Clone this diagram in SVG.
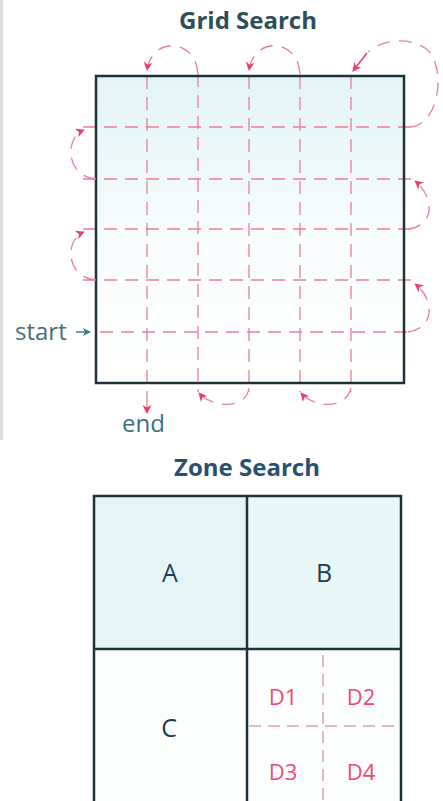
<svg xmlns="http://www.w3.org/2000/svg" width="443" height="801" viewBox="0 0 443 801">
<defs>
<linearGradient id="g1" x1="0" y1="0" x2="0" y2="1">
<stop offset="0" stop-color="#e2f4f6"/>
<stop offset="0.6" stop-color="#fafdfd"/>
<stop offset="1" stop-color="#ffffff"/>
</linearGradient>
<marker id="ah" viewBox="0 0 10 10" refX="9" refY="5" markerWidth="9" markerHeight="9" markerUnits="userSpaceOnUse" orient="auto">
<path d="M0,0 L10,5 L0,10 L3,5 Z" fill="#ec3d68"/>
</marker>
<marker id="ahb" viewBox="0 0 10 10" refX="9" refY="5" markerWidth="8" markerHeight="8" markerUnits="userSpaceOnUse" orient="auto">
<path d="M0,0 L10,5 L0,10 L3,5 Z" fill="#3b7a8c"/>
</marker>
<style>
.title{font-family:"Open Sans","Noto Sans",sans-serif;font-weight:700;font-size:24px;text-anchor:middle}
.lbl{font-family:"Open Sans","Noto Sans",sans-serif;font-weight:500;font-size:25px;fill:#1d3d55;text-anchor:middle}
.dl{font-family:"Open Sans","Noto Sans",sans-serif;font-weight:500;font-size:22px;fill:#ec4a70;text-anchor:middle}
.se{font-family:"Open Sans","Noto Sans",sans-serif;font-size:24px}
.box{fill:none;stroke:#1f3139;stroke-width:2.5}
.gl{stroke:#ea7e97;stroke-width:1.3;stroke-dasharray:13 8;fill:none}
.arc{stroke:#ea7e97;stroke-width:1.3;stroke-dasharray:13 9;fill:none}
.dz{stroke:#dca3b3;stroke-width:1.5;stroke-dasharray:12 7;fill:none}
</style>
</defs>
<rect width="443" height="801" fill="#ffffff"/>
<line x1="1.5" y1="0" x2="1.5" y2="440" stroke="#dedede" stroke-width="3"/>

<g id="grid-search">
<text class="title" x="248" y="29" fill="#2e4f57">Grid Search</text>
<rect x="96" y="76" width="308" height="307" fill="url(#g1)"/>
<g id="grid-lines">
<path class="gl" d="M83 127H412M83 179H412M83 229H412M83 280H412M100 332H408"/>
<path class="gl" d="M147 76V400M198 74V392M249 76V392M300 76V392M351 76V392"/>
</g>
<rect class="box" x="96" y="76" width="308" height="307"/>
</g>

<g id="connectors">
<path class="arc" d="M198 74 C196 38, 152 36, 147 70" marker-end="url(#ah)"/>
<path class="arc" d="M300 74 C298 38, 254 36, 249 70" marker-end="url(#ah)"/>
<path class="arc" d="M410 127 C442 124, 446 62, 425 48 C405 35, 378 42, 368 52"/>
<path d="M367 53 L353 71" stroke="#ec3d68" stroke-width="1.5" fill="none" marker-end="url(#ah)"/>
<path class="arc" d="M408 229 C436 226, 434 196, 415 181" marker-end="url(#ah)"/>
<path class="arc" d="M408 332 C436 328, 434 298, 415 284" marker-end="url(#ah)"/>
<path class="arc" d="M96 280 C66 278, 64 240, 84 232" marker-end="url(#ah)"/>
<path class="arc" d="M96 179 C66 177, 64 138, 84 130" marker-end="url(#ah)"/>
<path class="arc" d="M249 388 C246 410, 212 408, 199 393" marker-end="url(#ah)"/>
<path class="arc" d="M351 388 C346 410, 314 408, 301 393" marker-end="url(#ah)"/>
<path d="M147 400 V413" stroke="#ea7e97" stroke-width="1.3" fill="none" marker-end="url(#ah)"/>
<path d="M76 332 H90" stroke="#3b7a8c" stroke-width="1.5" fill="none" marker-end="url(#ahb)"/>
</g>

<g id="start"><text class="se" x="15" y="340" fill="#4a6e78">start</text></g>
<g id="end"><text class="se" x="122" y="432" fill="#3d6f80">end</text></g>

<g id="zone-search">
<text class="title" x="247" y="476" fill="#2a5070">Zone Search</text>
<rect x="94" y="496" width="154" height="154" fill="#e5f5f6"/>
<rect x="248" y="496" width="153" height="154" fill="#e8f7f8"/>
<rect x="94" y="650" width="307" height="160" fill="#fcfefe"/>
<g id="zone-d-lines">
<path class="dz" d="M323 655V801M249 726H397"/>
</g>
<path class="box" d="M94 810V496H401V810M247 496V810M94 649H401"/>
</g>
<g id="zone-a"><text class="lbl" x="170" y="582">A</text></g>
<g id="zone-b"><text class="lbl" x="324" y="582">B</text></g>
<g id="zone-c"><text class="lbl" x="169" y="737">C</text></g>
<g id="zone-d1"><text class="dl" x="283" y="705">D1</text></g>
<g id="zone-d2"><text class="dl" x="361" y="705">D2</text></g>
<g id="zone-d3"><text class="dl" x="283" y="780">D3</text></g>
<g id="zone-d4"><text class="dl" x="361" y="780">D4</text></g>
</svg>
